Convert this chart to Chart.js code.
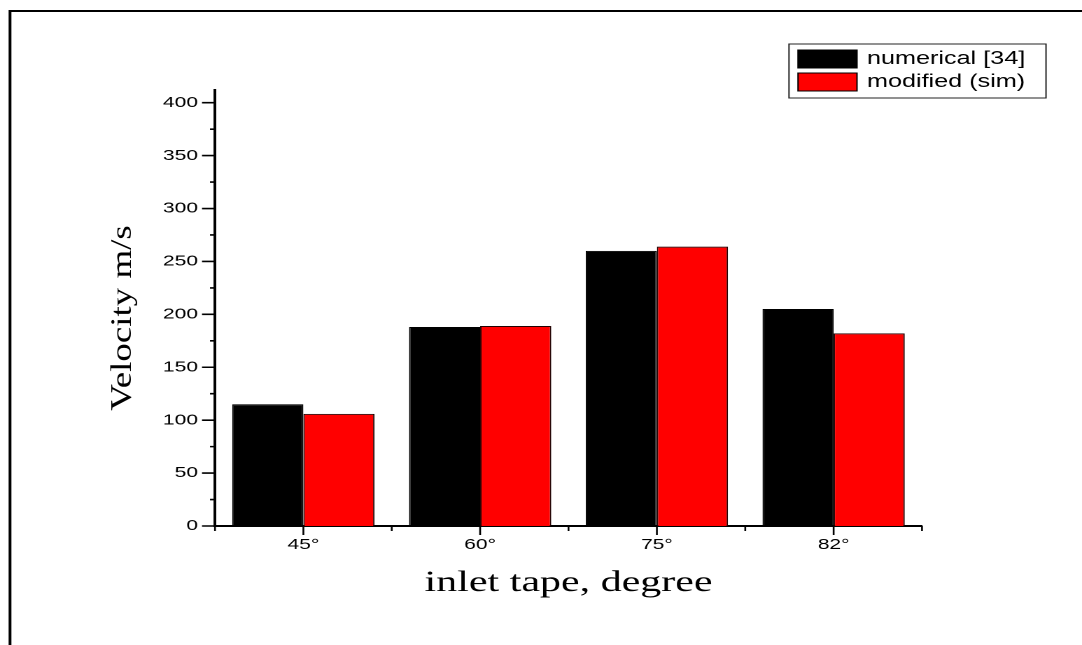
<!DOCTYPE html>
<html>
<head>
<meta charset="utf-8">
<script src="https://cdn.jsdelivr.net/npm/chart.js@4.4.0/dist/chart.umd.min.js"></script>
<style>
    html, body { margin: 0; padding: 0; background: #fff; overflow: hidden; }
</style>
</head>
<body>
<canvas id="velocityChart" width="773" height="645" style="display:block;width:1082px;height:645px"></canvas>
<script>
// Velocity by inlet tape angle
const angles = ['45°', '60°', '75°', '82°'];
const numerical = [115, 188, 260, 205];
const modified = [106, 189, 264, 182];
const seriesNames = ['numerical [34]', 'modified (sim)'];
const seriesColors = ['#000000', '#ff0000'];
const yTickValues = [0, 50, 100, 150, 200, 250, 300, 350, 400];
const yTitle = 'Velocity m/s';
const xTitle = 'inlet tape, degree';

// canvas is drawn 773 wide and stretched to 1082 by css, which gives the wide lettering
const STRETCH = 1082 / 773;
const sx = (px) => px / STRETCH;

// outer frame, axis tick marks, legend box and rotated y title
const decorations = {
    id: 'decorations',
    afterDraw(chart) {
        const ctx = chart.ctx;
        const area = chart.chartArea;
        const x = chart.scales.x;
        const y = chart.scales.y;

        ctx.save();
        ctx.strokeStyle = '#000';

        // frame (only top and left fall inside the page)
        ctx.lineWidth = 2;
        ctx.beginPath();
        ctx.moveTo(sx(9), 11);
        ctx.lineTo(chart.width, 11);
        ctx.moveTo(sx(10), 10);
        ctx.lineTo(sx(10), chart.height);
        ctx.stroke();

        // y ticks: major every 50, minor every 25, pointing outwards
        ctx.lineWidth = 1.6;
        ctx.beginPath();
        for (let v = 0; v <= 400; v += 25) {
            const py = y.getPixelForValue(v);
            const len = yTickValues.includes(v) ? sx(13) : sx(5);
            ctx.moveTo(area.left, py);
            ctx.lineTo(area.left - len, py);
        }
        ctx.stroke();

        // x ticks: major at each category, minor at the boundaries
        ctx.lineWidth = 1.3;
        ctx.beginPath();
        const step = (area.right - area.left) / angles.length;
        for (let i = 0; i <= angles.length; i++) {
            const px = area.left + i * step;
            ctx.moveTo(px, area.bottom);
            ctx.lineTo(px, area.bottom + 5);
        }
        angles.forEach((a, i) => {
            const px = x.getPixelForValue(i);
            ctx.moveTo(px, area.bottom);
            ctx.lineTo(px, area.bottom + 9);
        });
        ctx.stroke();

        // legend
        const box = { left: sx(789), top: 44, right: sx(1046), bottom: 98 };
        ctx.lineWidth = 1;
        ctx.strokeStyle = '#222';
        ctx.strokeRect(box.left, box.top, box.right - box.left, box.bottom - box.top);
        ctx.font = '18px "Liberation Sans", Arial, sans-serif';
        ctx.textAlign = 'left';
        ctx.textBaseline = 'middle';
        seriesNames.forEach((name, i) => {
            const top = 50 + i * 23;
            ctx.fillStyle = seriesColors[i];
            ctx.fillRect(sx(798), top, sx(59), 18);
            ctx.strokeStyle = '#000';
            ctx.strokeRect(sx(798), top, sx(59), 18);
            ctx.fillStyle = '#000';
            ctx.fillText(name, sx(867), top + 9);
        });

        // y title, kept wide along its own baseline
        ctx.translate(sx(123), 318);
        ctx.rotate(-Math.PI / 2);
        ctx.scale(1.23, 1 / STRETCH);
        ctx.font = '30px "Liberation Serif", "Times New Roman", serif';
        ctx.textAlign = 'center';
        ctx.textBaseline = 'middle';
        ctx.fillStyle = '#000';
        ctx.fillText(yTitle, 0, 0);
        ctx.restore();
    }
};

const canvas = document.getElementById('velocityChart');
new Chart(canvas.getContext('2d'), {
    type: 'bar',
    data: {
        labels: angles,
        datasets: [
            {
                label: seriesNames[0],
                data: numerical,
                backgroundColor: seriesColors[0],
                borderColor: '#000',
                borderWidth: 1
            },
            {
                label: seriesNames[1],
                data: modified,
                backgroundColor: seriesColors[1],
                borderColor: '#220000',
                borderWidth: 1
            }
        ]
    },
    options: {
        responsive: false,
        animation: false,
        devicePixelRatio: 2,
        layout: { padding: { top: 90, right: 773 - sx(922), left: 0, bottom: 0 } },
        datasets: { bar: { categoryPercentage: 0.805, barPercentage: 1.0 } },
        scales: {
            x: {
                grid: { display: false, drawTicks: false },
                border: { display: true, color: '#000', width: 2 },
                ticks: {
                    color: '#000',
                    padding: 10,
                    font: { family: '"Liberation Sans", Arial, sans-serif', size: 15 }
                },
                title: {
                    display: true,
                    text: xTitle,
                    color: '#000',
                    padding: { top: 0, bottom: 44 },
                    font: { family: '"Liberation Serif", "Times New Roman", serif', size: 30 }
                },
                afterFit: (scale) => { scale.height = 119; }
            },
            y: {
                min: 0,
                max: 412,
                grid: { display: false, drawTicks: false },
                border: { display: true, color: '#000', width: 2 },
                ticks: {
                    color: '#000',
                    padding: sx(17),
                    font: { family: '"Liberation Sans", Arial, sans-serif', size: 15 }
                },
                afterBuildTicks: (scale) => {
                    scale.ticks = yTickValues.map(v => ({ value: v }));
                },
                afterFit: (scale) => { scale.width = sx(215); }
            }
        },
        plugins: {
            legend: { display: false },
            tooltip: { enabled: false }
        }
    },
    plugins: [decorations]
});
</script>
</body>
</html>
